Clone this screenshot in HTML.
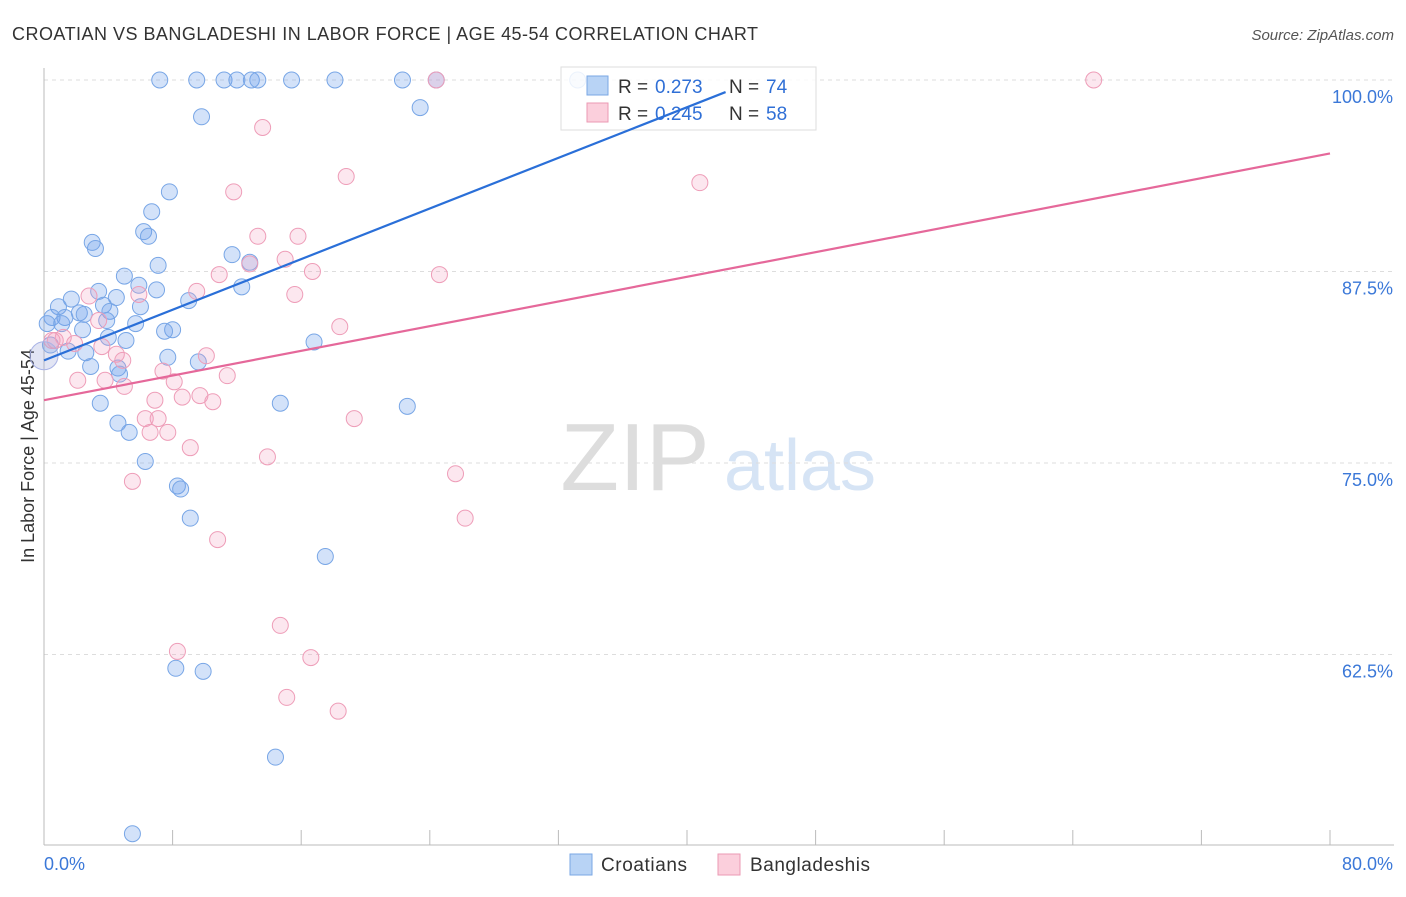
<!DOCTYPE html>
<html><head><meta charset="utf-8">
<style>
body{margin:0;background:#fff;font-family:"Liberation Sans",sans-serif;}
svg text{font-family:"Liberation Sans",sans-serif;}
</style></head>
<body>
<svg id="chart" width="1406" height="892">
<text x="12" y="40" font-size="18" fill="#333" textLength="746" lengthAdjust="spacing">CROATIAN VS BANGLADESHI IN LABOR FORCE | AGE 45-54 CORRELATION CHART</text>
<text x="1394" y="40" font-size="15" fill="#555" text-anchor="end" font-style="italic">Source: ZipAtlas.com</text>
<text x="34" y="456" font-size="18" fill="#333" text-anchor="middle" transform="rotate(-90 34 456)">In Labor Force | Age 45-54</text>
<text x="635" y="490" font-size="96" fill="#ddd" font-family="Liberation Serif" text-anchor="middle">ZIP</text>
<text x="800" y="490" font-size="72" fill="#d6e4f5" text-anchor="middle">atlas</text>
<g id="grid"></g><g id="axes"></g><g id="pts"></g>
<g>
<rect x="561" y="67" width="255" height="63" fill="rgba(255,255,255,0.85)" stroke="#ddd"/>
<rect x="587" y="76" width="21" height="19" fill="#b8d3f5" stroke="#7aa7e4"/>
<text x="618" y="93" font-size="19" fill="#333">R =</text>
<text x="655" y="93" font-size="19" fill="#2f6fd6">0.273</text>
<text x="729" y="93" font-size="19" fill="#333">N =</text>
<text x="766" y="93" font-size="19" fill="#2f6fd6">74</text>
<rect x="587" y="103" width="21" height="19" fill="#fbcfdc" stroke="#eb9ab3"/>
<text x="618" y="120" font-size="19" fill="#333">R =</text>
<text x="655" y="120" font-size="19" fill="#2f6fd6">0.245</text>
<text x="729" y="120" font-size="19" fill="#333">N =</text>
<text x="766" y="120" font-size="19" fill="#2f6fd6">58</text>
</g>
<g id="trends"></g>
<g>
<rect x="570" y="854" width="22" height="21" fill="#b8d3f5" stroke="#7aa7e4"/>
<text x="601" y="871" font-size="19" fill="#333" textLength="86">Croatians</text>
<rect x="718" y="854" width="22" height="21" fill="#fbcfdc" stroke="#eb9ab3"/>
<text x="750" y="871" font-size="19" fill="#333" textLength="120">Bangladeshis</text>
</g>
</svg>
<script>
const xTicks=[0,8,16,24,32,40,48,56,64,72,80];
const yTicks=[100,87.5,75,62.5];
const yTickLabels=["100.0%","87.5%","75.0%","62.5%"];
const croX=[7.2,9.5,11.2,12.0,12.9,13.3,15.4,18.1,22.3,24.4,33.2,9.8,23.4,7.8,6.7,3.0,3.2,6.2,6.5,7.1,11.7,12.8,5.0,5.9,7.0,12.3,9.0,1.7,0.9,3.4,4.5,3.7,4.1,6.0,2.2,2.5,1.3,0.5,0.2,1.1,3.9,5.7,2.4,8.0,7.5,4.0,5.1,0.4,1.5,2.6,7.7,9.6,2.9,4.6,4.7,16.8,3.5,14.7,22.6,4.6,5.3,6.3,8.3,8.5,9.1,17.5,8.2,9.9,14.4,5.5];
const croY=[100,100,100,100,100,100,100,100,100,100,100,97.6,98.2,92.7,91.4,89.4,89.0,90.1,89.8,87.9,88.6,88.1,87.2,86.6,86.3,86.5,85.6,85.7,85.2,86.2,85.8,85.3,84.9,85.2,84.8,84.7,84.5,84.5,84.1,84.1,84.3,84.1,83.7,83.7,83.6,83.2,83.0,82.7,82.3,82.2,81.9,81.6,81.3,81.2,80.8,82.9,78.9,78.9,78.7,77.6,77.0,75.1,73.5,73.3,71.4,68.9,61.6,61.4,55.8,50.8];
const banX=[24.4,65.3,13.6,11.8,18.8,40.8,13.3,15.8,10.9,12.8,15.0,16.7,24.6,2.8,5.9,9.5,15.6,3.4,0.7,1.2,3.6,4.5,1.9,4.9,10.1,18.4,2.1,3.8,7.4,11.4,5.0,8.1,6.9,8.6,9.7,10.5,6.3,7.1,6.6,7.7,19.3,9.1,13.9,5.5,25.6,26.2,10.8,14.7,16.6,8.3,15.1,18.3,0.5];
const banY=[100,100,96.9,92.7,93.7,93.3,89.8,89.8,87.3,88.0,88.3,87.5,87.3,85.9,86.0,86.2,86.0,84.3,83.0,83.2,82.6,82.1,82.8,81.7,82.0,83.9,80.4,80.4,81.0,80.7,80.0,80.3,79.1,79.3,79.4,79.0,77.9,77.9,77.0,77.0,77.9,76.0,75.4,73.8,74.3,71.4,70.0,64.4,62.3,62.7,59.7,58.8,83.0];
const croTrend=[81.7,0.413];
const banTrend=[79.1,0.2013];
const X=v=>44+v/80*1286;
const Y=v=>80+(100-v)*15.32;
const NS="http://www.w3.org/2000/svg";
function mk(tag,attrs,parent){const e=document.createElementNS(NS,tag);for(const k in attrs)e.setAttribute(k,attrs[k]);document.getElementById(parent).appendChild(e);return e;}
yTicks.forEach((t,i)=>{
 const l=mk('line',{x1:44,x2:1394,y1:Y(t),y2:Y(t),stroke:'#ddd','stroke-dasharray':'4 4'},'grid');
 
 
 const tx=mk('text',{x:1393,y:Y(t)+23,'font-size':18,fill:'#3b78d8','text-anchor':'end'},'grid');
 tx.textContent=yTickLabels[i];
 
 
});
const ax=mk('line',{x1:44,x2:1394,y1:845,y2:845,stroke:'#bbb'},'axes');


const ay=mk('line',{x1:44,x2:44,y1:68,y2:845,stroke:'#bbb'},'axes');


xTicks.forEach(t=>{
 const l=mk('line',{x1:X(t),x2:X(t),y1:830,y2:845,stroke:'#bbb'},'axes');
 
 
});
const xl0=mk('text',{x:44,y:870,'font-size':18,fill:'#3b78d8'},'axes');xl0.textContent=xTicks[0].toFixed(1)+'%';


const xl1=mk('text',{x:1393,y:870,'font-size':18,fill:'#3b78d8','text-anchor':'end'},'axes');xl1.textContent=xTicks[xTicks.length-1].toFixed(1)+'%';


croX.forEach((v,i)=>{
 const c=mk('circle',{cx:X(v),cy:Y(croY[i]),r:8,fill:'rgba(110,160,235,0.3)',stroke:'#78a6e6','stroke-width':1},'pts');
 
 
});
banX.forEach((v,i)=>{
 const c=mk('circle',{cx:X(v),cy:Y(banY[i]),r:8,fill:'rgba(245,160,190,0.25)',stroke:'#ee9db8','stroke-width':1},'pts');
 
 
});
const big=mk('circle',{cx:X(0),cy:Y(82),r:14,fill:'rgba(160,170,220,0.3)',stroke:'#a9b3e6'},'pts');


const tb=mk('line',{x1:X(0),y1:Y(croTrend[0]),x2:X(42.4),y2:Y(croTrend[0]+croTrend[1]*42.4),stroke:'#2a6fd8','stroke-width':2.2},'trends');


const tp=mk('line',{x1:X(0),y1:Y(banTrend[0]),x2:X(80),y2:Y(banTrend[0]+banTrend[1]*80),stroke:'#e5689a','stroke-width':2.2},'trends');


</script>
</body></html>
